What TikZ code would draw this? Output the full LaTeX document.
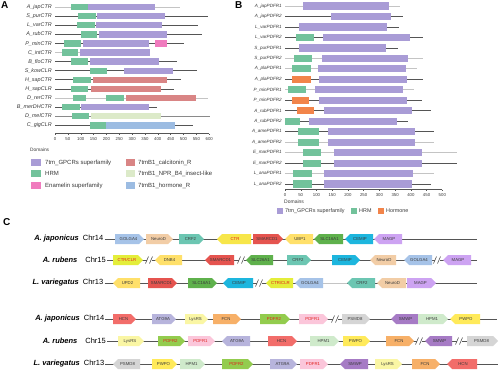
\documentclass[tikz,border=0pt]{standalone}
\usepackage{fontspec}
\setmainfont{Liberation Sans}
\definecolor{cpur}{HTML}{A99CD6}
\definecolor{cgrn}{HTML}{72C29B}
\definecolor{cpnk}{HTML}{F07BBE}
\definecolor{cred}{HTML}{D98585}
\definecolor{clgr}{HTML}{DCEAC9}
\definecolor{cblu}{HTML}{9CBCE2}
\definecolor{cora}{HTML}{F2844A}
\definecolor{dline}{HTML}{555555}
\definecolor{lline}{HTML}{C4C4C4}
\definecolor{mline}{HTML}{8A8A8A}
% panel C colours
\definecolor{cgol}{HTML}{A6C3E8}
\definecolor{cneu}{HTML}{F2CDA6}
\definecolor{ccrf}{HTML}{6CC6B2}
\definecolor{cctr}{HTML}{F7E64A}
\definecolor{cctrb}{HTML}{E4EE3A}
\definecolor{cgred}{HTML}{E5544F}
\definecolor{cyel}{HTML}{FFE06A}
\definecolor{cslc}{HTML}{5FB14C}
\definecolor{ccem}{HTML}{1DB6DE}
\definecolor{cmag}{HTML}{CDA3F2}
\definecolor{chcn}{HTML}{F26D6A}
\definecolor{catg}{HTML}{B7B4DC}
\definecolor{clys}{HTML}{FAF6A4}
\definecolor{cfcn}{HTML}{F7B068}
\definecolor{cpd2}{HTML}{93CC4E}
\definecolor{cpd1}{HTML}{FBC6DA}
\definecolor{cpsm}{HTML}{D5D5D5}
\definecolor{csmw}{HTML}{A67BC5}
\definecolor{chpm}{HTML}{CFEACB}
\definecolor{cpwp}{HTML}{FFEA5A}
\definecolor{gtxt}{HTML}{3A3A3A}
\definecolor{ctxtred}{HTML}{E0201B}
% domain box (panel A), domain box (panel B), row line
\newcommand\dbx[4]{\fill[#4] (#1,#3-3.2) rectangle (#2,#3+3.2);}
\newcommand\dbb[4]{\fill[#4] (#1,#3-3.6) rectangle (#2,#3+3.6);}
\newcommand\rl[3]{\draw[#3,line width=0.7pt] (0,#1) -- (#2,#1);}
% gene arrows: [text colour]{x1}{x2}{y}{fill}{label}
\newcommand\gR[6][gtxt]{%
  \fill[#5] (#2,#4-5) -- (#3-5,#4-5) -- (#3,#4) -- (#3-5,#4+5) -- (#2,#4+5) -- cycle;
  \node[genelab,text=#1] at ({(#2+#3)/2-1},#4) {#6};}
\newcommand\gL[6][gtxt]{%
  \fill[#5] (#3,#4-5) -- (#2+5,#4-5) -- (#2,#4) -- (#2+5,#4+5) -- (#3,#4+5) -- cycle;
  \node[genelab,text=#1] at ({(#2+#3)/2+1},#4) {#6};}
\newcommand\brk[2]{%
  \fill[white] (#1-2.5,#2-1) rectangle (#1+2.5,#2+1);
  \draw[dline,line width=0.6pt] (#1-3.5,#2+3.5) -- (#1-0.5,#2-3.5) (#1+0.5,#2+3.5) -- (#1+3.5,#2-3.5);}
\begin{document}
\begin{tikzpicture}[x=1pt,y=-1pt,
  rowlab/.style={anchor=east,inner sep=0pt,font=\fontsize{5.4}{6}\selectfont\itshape,text=gtxt},
  rowlabB/.style={anchor=east,inner sep=0pt,font=\fontsize{4.6}{5}\selectfont\itshape,text=gtxt},
  ticklab/.style={inner sep=0pt,font=\fontsize{4.3}{5}\selectfont,text=gtxt},
  leglab/.style={anchor=west,inner sep=0pt,font=\fontsize{6}{7}\selectfont,text=gtxt},
  genelab/.style={inner sep=0pt,font=\fontsize{4.3}{5}\selectfont},
  sp/.style={anchor=east,inner sep=0pt,font=\fontsize{7.5}{8}\selectfont},
  panel/.style={anchor=north west,inner sep=0pt,font=\fontsize{10}{11}\selectfont\bfseries},
  chrline/.style={dline,line width=0.9pt}]
\useasboundingbox (0,0) rectangle (500,372);
\fill[white] (0,0) rectangle (500,372);

% ---------------- Panel A ----------------
\node[panel] (pA) at (1,1) {A};
\foreach \y/\t in {7/A\_japCTR,16.1/S\_purCTR/CLR,25.2/L\_varCTR/CLR,34.3/A\_rubCTR/CLR,43.4/P\_minCTR/CLR,52.5/C\_intCTR,61.6/B\_floCTR/PH,70.7/S\_kowCLR,79.8/H\_sapCTR,88.9/H\_sapCLR,98/D\_rerCTR,107.1/B\_merDHCTR,116.2/D\_melCTR,125.3/C\_gigCLR}
  \node[rowlab] at (52,\y) {\t};
\begin{scope}[xshift=55pt,x=0.257pt]
\rl{7}{486}{lline}   \dbx{61}{127}{7}{cgrn} \dbx{130}{389}{7}{cpur}
\rl{16.1}{594}{dline} \dbx{91}{158}{16.1}{cgrn} \dbx{163}{428}{16.1}{cpur}
\rl{25.2}{557}{dline} \dbx{84}{156}{25.2}{cgrn} \dbx{160}{416}{25.2}{cpur}
\rl{34.3}{571}{dline} \dbx{101}{163}{34.3}{cgrn} \dbx{172}{435}{34.3}{cpur}
\rl{43.4}{500}{dline} \dbx{35}{101}{43.4}{cgrn} \dbx{109}{367}{43.4}{cpur} \dbx{389}{435}{43.4}{cpnk}
\rl{52.5}{370}{lline} \dbx{27}{91}{52.5}{cgrn} \dbx{97}{370}{52.5}{cpur}
\rl{61.6}{473}{dline} \dbx{61}{130}{61.6}{cgrn} \dbx{136}{405}{61.6}{cpur}
\rl{70.7}{551}{dline} \dbx{136}{201}{70.7}{cgrn} \dbx{268}{458}{70.7}{cpur}
\rl{79.8}{490}{dline} \dbx{71}{139}{79.8}{cgrn} \dbx{149}{435}{79.8}{cred}
\rl{88.9}{463}{dline} \dbx{64}{130}{88.9}{cgrn} \dbx{140}{411}{88.9}{cred}
\rl{98}{596}{lline}   \dbx{71}{121}{98}{cgrn} \dbx{198}{268}{98}{cgrn} \dbx{276}{547}{98}{cred}
\rl{107.1}{395}{dline} \dbx{29}{97}{107.1}{cgrn} \dbx{101}{366}{107.1}{cpur}
\rl{116.2}{603}{mline} \dbx{66}{134}{116.2}{cgrn} \dbx{139}{411}{116.2}{clgr}
\rl{125.3}{535}{dline} \dbx{136}{197}{125.3}{cgrn} \dbx{197}{467}{125.3}{cblu}
\draw[dline,line width=0.5pt] (0,133.5) -- (600,133.5);
\foreach \t in {0,50,...,600} {
  \draw[dline,line width=0.4pt] (\t,133.5) -- (\t,135.3);
  \node[ticklab] at (\t,138.6) {\t};}
\end{scope}
% legend A
\node[anchor=west,inner sep=0pt,font=\fontsize{4.8}{5}\selectfont,text=gtxt] (domA) at (30,150) {Domains};
\fill[cpur] (31,159) rectangle (41,166); \node[leglab] at (45,162.5) {7tm\_GPCRs superfamily};
\fill[cgrn] (31,170) rectangle (41,177); \node[leglab] at (45,173.5) {HRM};
\fill[cpnk] (31,182) rectangle (41,189); \node[leglab] at (45,185.5) {Enamelin superfamily};
\fill[cred] (126,159) rectangle (135,166); \node[leglab] at (138,162.5) {7tmB1\_calcitonin\_R};
\fill[clgr] (126,170) rectangle (135,177); \node[leglab] at (138,173.5) {7tmB1\_NPR\_B4\_insect-like};
\fill[cblu] (126,182) rectangle (135,189); \node[leglab] at (138,185.5) {7tmB1\_hormone\_R};

% ---------------- Panel B ----------------
\node[panel] (pB) at (235,1) {B};
\foreach \y/\t in {6/A\_japPDFR1,16.5/A\_japPDFR2,26.9/L\_varPDFR1,37.4/L\_varPDFR2,47.9/S\_purPDFR1,58.4/S\_purPDFR2,68.8/A\_plaPDFR1,79.3/A\_plaPDFR2,89.8/P\_minPDFR1,100.2/P\_minPDFR2,110.7/A\_rubPDFR1,121.2/A\_rubPDFR2,131.6/A\_amePDFR1,142.1/A\_amePDFR2,152.6/E\_marPDFR1,163.1/E\_marPDFR2,173.5/L\_anaPDFR1,184/L\_anaPDFR2}
  \node[rowlabB] at (282,\y) {\t};
\begin{scope}[xshift=285pt,x=0.3146pt]
\rl{6}{366}{lline} \dbb{56}{330}{6}{cpur}
\rl{16.5}{374}{dline} \dbb{146}{337}{16.5}{cpur}
\rl{26.9}{363}{dline} \dbb{45}{325}{26.9}{cpur}
\rl{37.4}{440}{dline} \dbb{35}{92}{37.4}{cgrn} \dbb{122}{397}{37.4}{cpur}
\rl{47.9}{360}{dline} \dbb{45}{321}{47.9}{cpur}
\rl{58.4}{440}{lline} \dbb{29}{86}{58.4}{cgrn} \dbb{117}{392}{58.4}{cpur}
\rl{68.8}{419}{lline} \dbb{22}{83}{68.8}{cgrn} \dbb{105}{383}{68.8}{cpur}
\rl{79.3}{440}{dline} \dbb{22}{83}{79.3}{cora} \dbb{108}{387}{79.3}{cpur}
\rl{89.8}{409}{lline} \dbb{11}{67}{89.8}{cgrn} \dbb{94}{374}{89.8}{cpur}
\rl{100.2}{437}{dline} \dbb{22}{76}{100.2}{cora} \dbb{108}{387}{100.2}{cpur}
\rl{110.7}{463}{dline} \dbb{38}{91}{110.7}{cora} \dbb{124}{403}{110.7}{cpur}
\rl{121.2}{390}{dline} \dbb{0}{48}{121.2}{cgrn} \dbb{76}{355}{121.2}{cpur}
\rl{131.6}{474}{dline} \dbb{42}{108}{131.6}{cgrn} \dbb{136}{413}{131.6}{cpur}
\rl{142.1}{474}{lline} \dbb{42}{108}{142.1}{cgrn} \dbb{136}{413}{142.1}{cpur}
\rl{152.6}{548}{lline} \dbb{56}{113}{152.6}{cgrn} \dbb{156}{434}{152.6}{cpur}
\rl{163.1}{548}{dline} \dbb{56}{113}{163.1}{cgrn} \dbb{156}{434}{163.1}{cpur}
\rl{173.5}{474}{lline} \dbb{27}{85}{173.5}{cgrn} \dbb{124}{408}{173.5}{cpur}
\rl{184}{463}{dline} \dbb{27}{85}{184}{cgrn} \dbb{124}{403}{184}{cpur}
\draw[dline,line width=0.5pt] (0,189.5) -- (500,189.5);
\foreach \t in {0,50,...,500} {
  \draw[dline,line width=0.4pt] (\t,189.5) -- (\t,191.3);
  \node[ticklab] at (\t,194.6) {\t};}
\end{scope}
\node[anchor=west,inner sep=0pt,font=\fontsize{5}{6}\selectfont,text=gtxt] (domB) at (284,201.7) {Domains};
\fill[cpur] (277,207.5) rectangle (283,214); \node[leglab,font=\fontsize{5.4}{6}\selectfont] at (285,210.8) {7tm\_GPCRs superfamily};
\fill[cgrn] (351,207.5) rectangle (357,214); \node[leglab,font=\fontsize{5.4}{6}\selectfont] at (359,210.8) {HRM};
\fill[cora] (378,207.5) rectangle (384,214); \node[leglab,font=\fontsize{5.4}{6}\selectfont] at (386,210.8) {Hormone};

% ---------------- Panel C ----------------
\node[panel] (pC) at (3,218) {C};
% top group
\node[sp] (s1) at (103.5,239) {\textbf{\textit{A. japonicus}}\hspace{4pt}Chr14};
\node[sp] (s2) at (106,260) {\textbf{\textit{A. rubens}}\hspace{8pt}Chr15};
\node[sp] (s3) at (103.5,283) {\textbf{\textit{L. variegatus}}\hspace{4pt}Chr13};
\draw[chrline] (104.5,239) -- (477,239);
\draw[chrline] (107,260) -- (477,260);
\draw[chrline] (104.5,283) -- (323,283);
\draw[lline,line width=0.6pt] (323,283) -- (347,283);
\draw[chrline] (347,283) -- (477,283);
% row 1
\gR{115}{144}{239}{cgol}{GOLGA4}
\gR{146}{173}{239}{cneu}{NeuroD}
\gR{179}{204}{239}{ccrf}{CRF2}
\gL[ctxtred]{217}{251}{239}{cctr}{CTR}
\gR{253}{283}{239}{cgred}{SMARCD1}
\gL{285}{313}{239}{cyel}{UBP1}
\gL{314}{343}{239}{cslc}{SLC16A1}
\gL{345}{373}{239}{ccem}{CEMIP}
\gL{374}{402}{239}{cmag}{MAGP}
% row 2
\gR[ctxtred]{113}{143}{260}{cctrb}{CTR/CLR}
\brk{149}{260}
\gL{155}{182}{260}{cyel}{DNB4}
\gL{205}{234}{260}{cgred}{SMARCD1}
\brk{241}{260}
\gL{246}{273}{260}{cslc}{SLC26A1}
\gR{287}{311}{260}{ccrf}{CRF2}
\gR{332}{360}{260}{ccem}{CEMIP}
\gL{370}{396}{260}{cneu}{NeuroD}
\gL{404}{432}{260}{cgol}{GOLGA4}
\brk{437}{260}
\gL{443}{471}{260}{cmag}{MAGP}
% row 3
\gL{113}{140}{283}{cyel}{UPD2}
\gR{148}{177}{283}{cgred}{SMARCD1}
\gR{188}{217}{283}{cslc}{SLC16A1}
\gL{223}{253}{283}{ccem}{CEMIP}
\brk{259}{283}
\gL[ctxtred]{266}{293}{283}{cctrb}{CTR/CLR}
\gL{295}{323}{283}{cgol}{GOLGA4}
\gL{347}{375}{283}{ccrf}{CRF2}
\gL{377}{406}{283}{cneu}{NeuroD}
\gR{407}{436}{283}{cmag}{MAGP}

% bottom group
\node[sp] (s4) at (104.5,319) {\textbf{\textit{A. japonicus}}\hspace{4pt}Chr14};
\node[sp] (s5) at (106,341) {\textbf{\textit{A. rubens}}\hspace{8pt}Chr15};
\node[sp] (s6) at (104.5,364) {\textbf{\textit{L. variegatus}}\hspace{4pt}Chr13};
\draw[chrline] (105,319) -- (497,319);
\draw[chrline] (107,341) -- (497,341);
\draw[chrline] (105,364) -- (498,364);
% row 4
\gR{113}{136}{319}{chcn}{HCN}
\gR{152}{176}{319}{catg}{ATG9A}
\gR{185}{208}{319}{clys}{LysRS}
\gR{213}{241}{319}{cfcn}{FCN}
\gR[ctxtred]{260}{290}{319}{cpd2}{PDFR2}
\gR[ctxtred]{299}{328}{319}{cpd1}{PDFR1}
\brk{335}{319}
\gR{342}{370}{319}{cpsm}{PSMD8}
\gL{391}{418}{319}{csmw}{SMWP}
\gR{418}{448}{319}{chpm}{HPM1}
\gL{450}{480}{319}{cpwp}{PWPO}
% row 5
\gR{118}{144}{341}{clys}{LysRS}
\gR[ctxtred]{158}{185}{341}{cpd2}{PDFR2}
\gR[ctxtred]{188}{215}{341}{cpd1}{PDFR1}
\gL{222}{250}{341}{catg}{ATG9A}
\gR{268}{297}{341}{chcn}{HCN}
\gR{310}{339}{341}{chpm}{HPM1}
\gR{343}{370}{341}{cpwp}{PWPO}
\gR{386}{414}{341}{cfcn}{FCN}
\brk{419}{341}
\gL{425}{452}{341}{csmw}{SMWP}
\brk{459}{341}
\gR{467}{498}{341}{cpsm}{PSMD8}
% row 6
\gL{113}{140}{364}{cpsm}{PSMD8}
\gR{152}{177}{364}{cpwp}{PWPO}
\gR{180}{205}{364}{chpm}{HPM1}
\gR[ctxtred]{222}{253}{364}{cpd2}{PDFR2}
\gR{270}{297}{364}{catg}{ATG9A}
\gR[ctxtred]{300}{328}{364}{cpd1}{PDFR1}
\gL{340}{368}{364}{csmw}{SMWP}
\gR{375}{402}{364}{clys}{LysRS}
\gR{412}{440}{364}{cfcn}{FCN}
\gL{447}{477}{364}{chcn}{HCN}
\end{tikzpicture}
\end{document}
